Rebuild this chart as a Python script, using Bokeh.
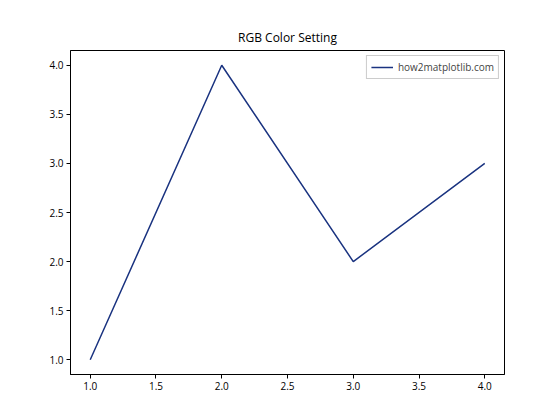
from bokeh.plotting import figure
from bokeh.models import FixedTicker, NumeralTickFormatter, Range1d, Legend, LegendItem
from bokeh.embed import file_html
from bokeh.resources import INLINE

x = [1, 2, 3, 4]
y = [1, 4, 2, 3]
xticks = [1.0, 1.5, 2.0, 2.5, 3.0, 3.5, 4.0]
yticks = [1.0, 1.5, 2.0, 2.5, 3.0, 3.5, 4.0]
label = "how2matplotlib.com"
title = "RGB Color Setting"
color = "#1a3380"
FONT = "Open Sans"

p = figure(width=544, height=404, output_backend="svg", toolbar_location=None,
           x_range=Range1d(0.85, 4.15), y_range=Range1d(0.85, 4.15),
           min_border_left=70, min_border_right=40, min_border_top=50, min_border_bottom=30)
p.title.text = title
p.title.align = "center"
p.title.text_font = FONT
p.title.text_font_size = "12px"
p.title.text_font_style = "normal"
p.title.text_color = "black"

r = p.line(x, y, line_color=color, line_width=1.5)

p.xgrid.visible = False
p.ygrid.visible = False
p.outline_line_color = "black"
p.outline_line_width = 1
p.background_fill_color = "white"
p.border_fill_color = "white"

for ax, t in ((p.xaxis[0], xticks), (p.yaxis[0], yticks)):
    ax.ticker = FixedTicker(ticks=t)
    ax.formatter = NumeralTickFormatter(format="0.0")
    ax.minor_tick_line_color = None
    ax.major_tick_out = 4
    ax.major_tick_in = 0
    ax.major_label_standoff = 3
    ax.major_label_text_font = FONT
    ax.major_label_text_font_size = "10px"
    ax.major_label_text_color = "black"
    ax.axis_line_color = "black"
    ax.major_tick_line_color = "black"

legend = Legend(items=[LegendItem(label=label, renderers=[r])], location="top_right")
legend.label_text_font = FONT
legend.label_text_font_size = "10px"
legend.border_line_color = "#cccccc"
legend.border_line_alpha = 1
legend.background_fill_alpha = 0.8
legend.glyph_width = 22
legend.glyph_height = 14
legend.label_height = 14
legend.padding = 4
legend.spacing = 0
legend.margin = 5
p.add_layout(legend)

open("out.html", "w").write(file_html(p, INLINE))
